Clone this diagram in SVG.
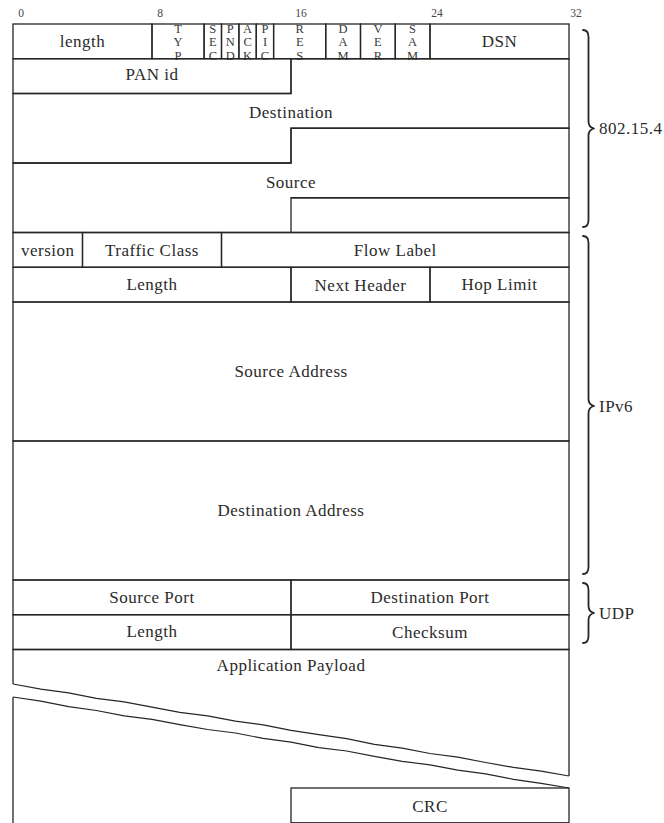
<svg xmlns="http://www.w3.org/2000/svg" width="664" height="823" viewBox="0 0 664 823" font-family="'Liberation Serif', 'DejaVu Serif', serif">
  <defs>
    <style>
      .box { fill: none; stroke: #262626; stroke-width: 1.3; }
      .wave { fill: none; stroke: #262626; stroke-width: 1.2; stroke-linejoin: round; }
      .brace { fill: none; stroke: #262626; stroke-width: 1.8; stroke-linecap: round; stroke-linejoin: round; }
      .lbl { font-family: 'Liberation Serif', 'DejaVu Serif', serif; font-size: 17px; letter-spacing: 0.5px; fill: #2b2b2b; text-anchor: middle; }
      .side { font-family: 'Liberation Serif', 'DejaVu Serif', serif; font-size: 17px; letter-spacing: 0.5px; fill: #2b2b2b; }
      .bit { font-family: 'Liberation Serif', 'DejaVu Serif', serif; font-size: 11.5px; fill: #444; text-anchor: middle; }
      .flag { font-family: 'Liberation Serif', 'DejaVu Serif', serif; font-size: 12.5px; fill: #3a3a3a; text-anchor: middle; }
    </style>
  </defs>
  <rect width="664" height="823" fill="#ffffff"/>

  <!-- bit ruler: one bit = 17.375px, word from x=13 to x=569 -->
  <g id="ruler">
    <text class="bit" x="21" y="17">0</text>
    <text class="bit" x="160" y="17">8</text>
    <text class="bit" x="301" y="17">16</text>
    <text class="bit" x="437" y="17">24</text>
    <text class="bit" x="576" y="17">32</text>
  </g>

  <!-- 802.15.4 MAC header -->
  <g id="mac-length">
    <rect class="box" x="13" y="24" width="139" height="34.75"/>
    <text class="lbl" x="82.5" y="46.5">length</text>
  </g>
  <g id="fcf-typ">
    <rect class="box" x="152" y="24" width="52.1" height="34.75"/>
    <text class="flag" x="178" y="32.5">T</text><text class="flag" x="178" y="46">Y</text><text class="flag" x="178" y="59.5">P</text>
  </g>
  <g id="fcf-sec">
    <rect class="box" x="204.1" y="24" width="17.4" height="34.75"/>
    <text class="flag" x="212.8" y="32.5">S</text><text class="flag" x="212.8" y="46">E</text><text class="flag" x="212.8" y="59.5">C</text>
  </g>
  <g id="fcf-pnd">
    <rect class="box" x="221.5" y="24" width="17.4" height="34.75"/>
    <text class="flag" x="230.2" y="32.5">P</text><text class="flag" x="230.2" y="46">N</text><text class="flag" x="230.2" y="59.5">D</text>
  </g>
  <g id="fcf-ack">
    <rect class="box" x="238.9" y="24" width="17.35" height="34.75"/>
    <text class="flag" x="247.6" y="32.5">A</text><text class="flag" x="247.6" y="46">C</text><text class="flag" x="247.6" y="59.5">K</text>
  </g>
  <g id="fcf-pic">
    <rect class="box" x="256.25" y="24" width="17.35" height="34.75"/>
    <text class="flag" x="265" y="32.5">P</text><text class="flag" x="265" y="46">I</text><text class="flag" x="265" y="59.5">C</text>
  </g>
  <g id="fcf-res">
    <rect class="box" x="273.6" y="24" width="52.15" height="34.75"/>
    <text class="flag" x="299.7" y="32.5">R</text><text class="flag" x="299.7" y="46">E</text><text class="flag" x="299.7" y="59.5">S</text>
  </g>
  <g id="fcf-dam">
    <rect class="box" x="325.75" y="24" width="34.75" height="34.75"/>
    <text class="flag" x="343.1" y="32.5">D</text><text class="flag" x="343.1" y="46">A</text><text class="flag" x="343.1" y="59.5">M</text>
  </g>
  <g id="fcf-ver">
    <rect class="box" x="360.5" y="24" width="34.75" height="34.75"/>
    <text class="flag" x="377.9" y="32.5">V</text><text class="flag" x="377.9" y="46">E</text><text class="flag" x="377.9" y="59.5">R</text>
  </g>
  <g id="fcf-sam">
    <rect class="box" x="395.25" y="24" width="34.75" height="34.75"/>
    <text class="flag" x="412.6" y="32.5">S</text><text class="flag" x="412.6" y="46">A</text><text class="flag" x="412.6" y="59.5">M</text>
  </g>
  <g id="mac-dsn">
    <rect class="box" x="430" y="24" width="139" height="34.75"/>
    <text class="lbl" x="499.5" y="46.5">DSN</text>
  </g>
  <g id="mac-panid">
    <rect class="box" x="13" y="58.75" width="278" height="34.75"/>
    <text class="lbl" x="152" y="79.5">PAN id</text>
  </g>
  <g id="mac-destination">
    <path class="box" d="M291,58.75 H569 V128.25 H291 V163 H13 V93.5 H291 Z"/>
    <text class="lbl" x="291" y="117.5">Destination</text>
  </g>
  <g id="mac-source">
    <path class="box" d="M291,128.25 H569 V197.75 H291 V232.5 H13 V163 H291 Z"/>
    <text class="lbl" x="291" y="187.5">Source</text>
  </g>
  <g id="mac-tail">
    <path class="box" d="M291,197.75 H569 V232.5 H291"/>
  </g>

  <!-- IPv6 header -->
  <g id="ip-version">
    <rect class="box" x="13" y="232.5" width="69.5" height="34.75"/>
    <text class="lbl" x="47.75" y="255.5">version</text>
  </g>
  <g id="ip-traffic-class">
    <rect class="box" x="82.5" y="232.5" width="139" height="34.75"/>
    <text class="lbl" x="152" y="255.5">Traffic Class</text>
  </g>
  <g id="ip-flow-label">
    <rect class="box" x="221.5" y="232.5" width="347.5" height="34.75"/>
    <text class="lbl" x="395.25" y="255.5">Flow Label</text>
  </g>
  <g id="ip-length">
    <rect class="box" x="13" y="267.25" width="278" height="34.75"/>
    <text class="lbl" x="152" y="289.5">Length</text>
  </g>
  <g id="ip-next-header">
    <rect class="box" x="291" y="267.25" width="139" height="34.75"/>
    <text class="lbl" x="360.5" y="290.5">Next Header</text>
  </g>
  <g id="ip-hop-limit">
    <rect class="box" x="430" y="267.25" width="139" height="34.75"/>
    <text class="lbl" x="499.5" y="289.5">Hop Limit</text>
  </g>
  <g id="ip-source-address">
    <rect class="box" x="13" y="302" width="556" height="139"/>
    <text class="lbl" x="291" y="376.5">Source Address</text>
  </g>
  <g id="ip-destination-address">
    <rect class="box" x="13" y="441" width="556" height="139"/>
    <text class="lbl" x="291" y="515.5">Destination Address</text>
  </g>

  <!-- UDP header -->
  <g id="udp-source-port">
    <rect class="box" x="13" y="580" width="278" height="34.75"/>
    <text class="lbl" x="152" y="602.5">Source Port</text>
  </g>
  <g id="udp-destination-port">
    <rect class="box" x="291" y="580" width="278" height="34.75"/>
    <text class="lbl" x="430" y="602.5">Destination Port</text>
  </g>
  <g id="udp-length">
    <rect class="box" x="13" y="614.75" width="278" height="34.75"/>
    <text class="lbl" x="152" y="636.5">Length</text>
  </g>
  <g id="udp-checksum">
    <rect class="box" x="291" y="614.75" width="278" height="34.75"/>
    <text class="lbl" x="430" y="637.5">Checksum</text>
  </g>

  <!-- payload, shown cut by a break -->
  <g id="app-payload">
    <path class="box" d="M13,684 V649.5 H569 V776"/>
    <polyline class="wave" points="13,684 40.8,689.1 68.6,692.9 96.4,698.4 124.2,701.9 152,707.2 179.8,712.3 207.6,715.8 235.4,721.1 263.2,724.8 291,730.4 318.8,734.7 346.6,738.7 374.4,744.4 402.2,748.2 430,753.5 457.8,757.2 485.6,762.5 513.4,767.4 541.2,771.1 569,776"/>
    <polyline class="wave" points="13,697 40.8,701.2 68.6,706.6 96.4,710.5 124.2,715.8 152,719.3 179.8,724.6 207.6,729.5 235.4,733 263.2,738.4 291,742.2 318.8,747.6 346.6,751 374.4,756.4 402.2,761.3 430,764.9 457.8,770.1 485.6,773.9 513.4,779.3 541.2,783.3 569,788"/>
    <path class="box" d="M13,697 V823"/>
    <text class="lbl" x="291" y="670.5">Application Payload</text>
  </g>
  <g id="crc">
    <rect class="box" x="291" y="788" width="278" height="34.75"/>
    <text class="lbl" x="430" y="812">CRC</text>
  </g>

  <!-- layer braces -->
  <g id="braces">
    <path class="brace" d="M583,30 C587,30 588.5,32 588.5,37 V121.5 C588.5,125.5 590,127.5 594,128.5 C590,129.5 588.5,131.5 588.5,135.5 V220 C588.5,225 587,227 583,227"/>
    <path class="brace" d="M583,236 C587,236 588.5,238 588.5,243 V399 C588.5,403 590,405 594,406 C590,407 588.5,409 588.5,413 V567 C588.5,572 587,574 583,574"/>
    <path class="brace" d="M583,583 C587,583 588.5,585 588.5,590 V606 C588.5,610 590,612 594,613 C590,614 588.5,616 588.5,620 V636 C588.5,641 587,643 583,643"/>
    <text class="side" x="599" y="134">802.15.4</text>
    <text class="side" x="599" y="411.5">IPv6</text>
    <text class="side" x="599" y="618.5">UDP</text>
  </g>
</svg>
